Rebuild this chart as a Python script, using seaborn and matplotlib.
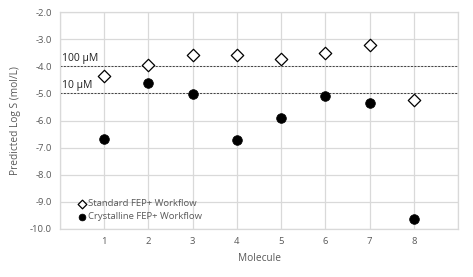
import matplotlib
matplotlib.use("Agg")
import matplotlib.pyplot as plt
import seaborn as sns
import pandas as pd

molecules = [1, 2, 3, 4, 5, 6, 7, 8]
standard = [-4.35, -3.95, -3.57, -3.58, -3.75, -3.52, -3.23, -5.25]
crystalline = [-6.67, -4.60, -5.04, -6.72, -5.92, -5.10, -5.35, -9.64]
series_names = ["Standard FEP+ Workflow", "Crystalline FEP+ Workflow"]
ref_levels = [-4.0, -5.0]
ref_labels = ["100 µM", "10 µM"]

df = pd.DataFrame({
    "Molecule": molecules * 2,
    "LogS": standard + crystalline,
    "Series": [series_names[0]] * len(molecules) + [series_names[1]] * len(molecules),
})

sns.set_theme(style="white")
plt.rcParams["font.family"] = ["Open Sans", "DejaVu Sans"]

fig = plt.figure(figsize=(4.73, 2.77), dpi=100)
ax = fig.add_axes([60/473, 1 - 229/277, (458-60)/473, (229-12)/277])

grid_c = "#d9d9d9"
for v in range(0, 10):
    ax.axvline(v, color=grid_c, lw=0.9, zorder=0)
for v in range(-10, -1):
    ax.axhline(v, color=grid_c, lw=0.9, zorder=0)

for lvl in ref_levels:
    ax.axhline(lvl, color="#404040", lw=0.7, ls=(0, (2, 1.5)), zorder=1)

sns.scatterplot(data=df[df.Series == series_names[0]], x="Molecule", y="LogS",
                marker="D", s=40, facecolor="white", edgecolor="black", linewidth=0.9,
                ax=ax, label=series_names[0], zorder=3)
sns.scatterplot(data=df[df.Series == series_names[1]], x="Molecule", y="LogS",
                marker="o", s=48, color="black", edgecolor="black",
                ax=ax, label=series_names[1], zorder=3)

for lvl, lab in zip(ref_levels, ref_labels):
    ax.text(0.05, lvl + 0.08, lab, fontsize=7.5, color="#222222", va="bottom", ha="left")

ax.set_xlim(0, 9)
ax.set_ylim(-10, -2)
ax.set_xticks(molecules)
ax.set_yticks(range(-10, -1))
ax.set_yticklabels([f"{v:.1f}" for v in range(-10, -1)])
ax.tick_params(axis="both", labelsize=6.8, colors="#595959", length=0, pad=6)
for s in ax.spines.values():
    s.set_color(grid_c)
    s.set_linewidth(0.9)

ax.set_xlabel("Molecule", fontsize=7.3, color="#595959", labelpad=5)
ax.set_ylabel("Predicted Log S (mol/L)", fontsize=7.3, color="#595959", labelpad=6)

leg = ax.legend(loc="lower left", bbox_to_anchor=(0.025, 0.0), frameon=False,
                fontsize=6.8, handletextpad=0.1, borderpad=0.3, labelspacing=0.45,
                handlelength=1.0, markerscale=0.7)
for t in leg.get_texts():
    t.set_color("#595959")

fig.savefig("out.png", dpi=100)
